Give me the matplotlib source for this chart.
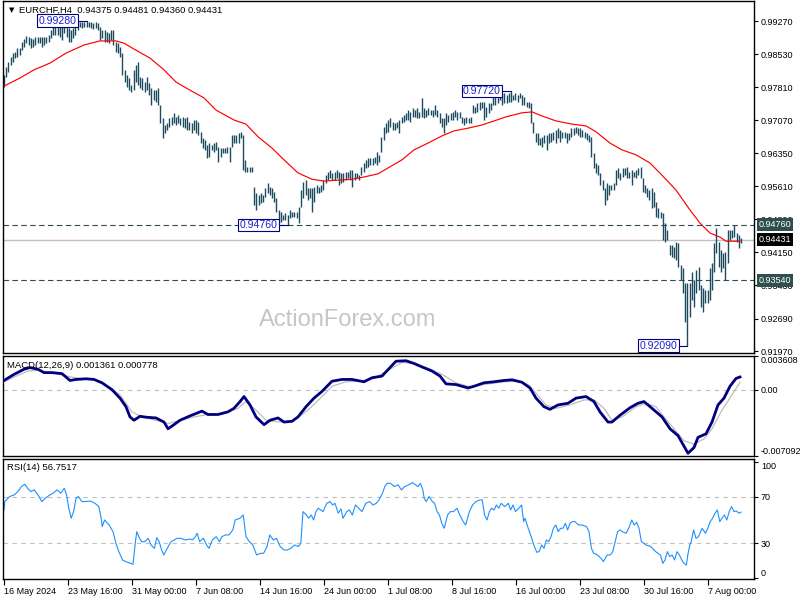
import numpy as np
import matplotlib
matplotlib.use("Agg")
import matplotlib.pyplot as plt
from matplotlib.transforms import blended_transform_factory

plt.rcParams['font.family'] = ['Liberation Sans', 'DejaVu Sans']

# ---------------- data ----------------
bar_high = [
    .9808, .9825, .9836, .9847, .9856, .9858, .9867, .9867, .9881, .9887,
    .9894, .9892, .9889, .9887, .9892, .9892, .9892, .9892, .9892, .9892,
    .9896, .9907, .9923, .9918, .9918, .9914, .9918, .9923, .9923, .9912,
    .9907, .9912, .9918, .9925, .9925, .9925, .9925, .9928, .9925, .9925,
    .9923, .9925, .9923, .9914, .9907, .9907, .9903, .9900, .9907, .9907,
    .9881, .9878, .9870, .9856, .9819, .9808, .9801, .9786, .9819, .9830,
    .9836, .9803, .9801, .9792, .9803, .9790, .9779, .9774, .9774, .9779,
    .9741, .9713, .9697, .9701, .9713, .9715, .9724, .9715, .9719, .9713,
    .9715, .9713, .9715, .9704, .9701, .9708, .9708, .9704, .9682, .9668,
    .9664, .9653, .9657, .9653, .9657, .9659, .9648, .9646, .9646, .9646,
    .9648, .9648, .9675, .9675, .9675, .9679, .9682, .9675, .9620,
    .9604, .9604, .9604, .9560, .9547, .9542, .9547, .9542, .9558, .9569,
    .9560, .9558, .9549, .9536, .9509, .9505, .9498, .9502, .9498, .9509,
    .9505, .9505, .9505, .9516, .9553, .9571, .9575, .9558, .9558, .9558,
    .9560, .9564, .9560, .9564, .9575, .9586, .9593, .9598, .9591, .9593,
    .9598, .9593, .9591, .9591, .9593, .9593, .9598, .9598, .9591, .9591,
    .9586, .9604, .9613, .9620, .9624, .9624, .9624, .9626, .9637, .9631,
    .9671, .9693, .9701, .9708, .9713, .9704, .9701, .9704, .9708, .9715,
    .9719, .9724, .9730, .9726, .9735, .9730, .9735, .9726, .9757, .9735,
    .9730, .9735, .9730, .9730, .9741, .9730, .9724, .9713, .9713, .9724,
    .9719, .9724, .9726, .9730, .9726, .9726, .9715, .9713, .9715, .9713,
    .9715, .9741, .9737, .9746, .9748, .9748, .9748, .9737, .9746, .9746,
    .9763, .9759, .9763, .9768, .9768, .9768, .9763, .9768, .9772, .9763,
    .9768, .9763, .9768, .9763, .9759, .9748, .9748, .9746, .9704, .9679,
    .9679, .9668, .9671, .9675, .9675, .9679, .9679, .9682, .9686, .9690,
    .9686, .9682, .9682, .9679, .9679, .9690, .9690, .9693, .9690, .9690,
    .9686, .9682, .9679, .9675, .9671, .9635, .9613, .9609, .9591, .9575,
    .9558, .9569, .9564, .9564, .9569, .9598, .9602, .9591, .9602, .9602,
    .9604, .9593, .9598, .9593, .9598, .9602, .9604, .9580, .9564, .9558,
    .9553, .9558, .9549, .9527, .9513, .9505, .9502, .9480, .9465, .9432,
    .9432, .9427, .9438, .9436, .9387, .9381, .9348, .9348, .9348, .9372,
    .9354, .9376, .9383, .9343, .9336, .9332, .9332, .9381, .9392, .9436,
    .9469, .9438, .9421, .9414, .9416, .9465, .9465, .9465, .9476, .9458,
    .9454, .9448,
]
bar_low = [
    .9781, .9803, .9814, .9830, .9836, .9845, .9847, .9852, .9863, .9870,
    .9878, .9874, .9867, .9870, .9874, .9878, .9878, .9870, .9874, .9878,
    .9881, .9889, .9896, .9896, .9896, .9892, .9885, .9900, .9892, .9881,
    .9881, .9889, .9896, .9907, .9914, .9912, .9914, .9914, .9914, .9912,
    .9909, .9912, .9907, .9885, .9889, .9881, .9881, .9878, .9885, .9874,
    .9858, .9856, .9847, .9808, .9792, .9781, .9774, .9770, .9774, .9792,
    .9786, .9779, .9774, .9770, .9774, .9763, .9741, .9752, .9748, .9741,
    .9701, .9668, .9679, .9686, .9693, .9697, .9701, .9697, .9701, .9697,
    .9693, .9690, .9686, .9686, .9679, .9686, .9679, .9675, .9657, .9646,
    .9642, .9624, .9626, .9642, .9637, .9642, .9615, .9626, .9635, .9635,
    .9635, .9615, .9648, .9657, .9657, .9657, .9668, .9598, .9593,
    .9593, .9593, .9593, .9520, .9509, .9520, .9525, .9527, .9538, .9547,
    .9542, .9536, .9527, .9505, .9480, .9483, .9487, .9487, .9476, .9491,
    .9494, .9494, .9491, .9480, .9516, .9536, .9542, .9531, .9536, .9505,
    .9527, .9547, .9547, .9549, .9553, .9569, .9575, .9580, .9575, .9575,
    .9580, .9564, .9569, .9571, .9575, .9580, .9575, .9560, .9575, .9580,
    .9575, .9586, .9593, .9602, .9604, .9609, .9609, .9613, .9609, .9615,
    .9637, .9664, .9679, .9682, .9693, .9686, .9686, .9690, .9679, .9701,
    .9704, .9708, .9708, .9704, .9715, .9715, .9713, .9713, .9715, .9713,
    .9715, .9719, .9719, .9715, .9719, .9715, .9701, .9693, .9679, .9697,
    .9704, .9708, .9708, .9715, .9708, .9713, .9701, .9697, .9701, .9701,
    .9701, .9724, .9724, .9726, .9730, .9735, .9708, .9715, .9724, .9730,
    .9741, .9741, .9746, .9752, .9741, .9746, .9746, .9748, .9748, .9752,
    .9752, .9748, .9757, .9741, .9741, .9737, .9735, .9701, .9679, .9659,
    .9653, .9653, .9648, .9657, .9642, .9657, .9659, .9664, .9657, .9668,
    .9659, .9668, .9668, .9657, .9664, .9671, .9675, .9679, .9675, .9671,
    .9671, .9668, .9664, .9659, .9626, .9602, .9591, .9586, .9564, .9553,
    .9520, .9531, .9542, .9553, .9553, .9564, .9580, .9575, .9582, .9586,
    .9580, .9580, .9564, .9582, .9580, .9586, .9580, .9549, .9547, .9538,
    .9531, .9513, .9516, .9494, .9491, .9491, .9443, .9438, .9443, .9409,
    .9405, .9403, .9398, .9383, .9354, .9325, .9261, .9209, .9272, .9310,
    .9294, .9325, .9332, .9294, .9283, .9303, .9303, .9310, .9332, .9372,
    .9414, .9383, .9372, .9381, .9354, .9392, .9443, .9447, .9449, .9438,
    .9425, .9436,
]

# moving average (red)
ma_idx = [0, 8, 15, 23, 31, 40, 48, 56, 60, 65, 73, 80, 86, 93, 100, 106, 115, 121,
          127, 134, 140, 147, 154, 160, 167, 174, 180, 187, 192, 199, 205, 212, 219,
          225, 232, 239, 245, 251, 259, 264, 269, 276, 284, 291, 296, 303, 309, 316,
          323, 329, 336, 343, 348, 353, 358, 361, 368]
ma_val = [.9783, .9801, .9819, .9834, .9856, .9874, .9883, .9883, .9878, .9865, .9845,
          .9819, .9792, .9774, .9757, .9730, .9708, .9699, .9671, .9646, .9620, .9591,
          .9577, .9573, .9575, .9577, .9582, .9589, .9602, .9620, .9642, .9657, .9673,
          .9684, .9690, .9697, .9706, .9715, .9724, .9726, .9717, .9706, .9699, .9695,
          .9682, .9657, .9642, .9631, .9613, .9586, .9553, .9509, .9480, .9458, .9449,
          .9440, .9440]

# MACD (values in units of 0.001)
macd_idx = [0, 5, 10, 13, 17, 20, 24, 29, 33, 36, 41, 45, 49, 54, 58, 61, 63, 65, 68, 71,
            76, 80, 82, 84, 88, 93, 99, 102, 107, 112, 115, 118, 120, 123, 126, 130, 133,
            137, 140, 144, 147, 151, 155, 159, 164, 169, 174, 180, 184, 189, 193, 196,
            201, 205, 209, 214, 218, 221, 226, 232, 235, 240, 245, 250, 254, 259, 263,
            266, 270, 273, 277, 282, 286, 291, 295, 298, 302, 304, 308, 313, 317, 320,
            324, 329, 333, 337, 342, 345, 347, 351, 354, 357, 360, 363, 366, 368]
macd_milli = [0.99, 1.64, 2.19, 2.37, 2.19, 1.83, 1.83, 1.72, 0.99, 1.10,
              1.17, 1.10, 0.74, 0.0, -0.90, -1.82, -2.91, -3.27, -2.84, -2.94,
              -3.02, -3.46, -4.18, -3.89, -3.27, -2.80, -2.29, -2.65, -2.65, -2.37,
              -1.99, -1.27, -0.73, -1.63, -2.91, -3.74, -3.27, -3.02, -3.46, -3.38,
              -2.91, -1.82, -0.90, -0.18, 0.91, 1.10, 1.10, 0.85, 1.28, 1.46,
              2.37, 3.05, 3.10, 2.81, 2.44, 2.00, 1.46, 0.63, 0.55, 0.19,
              0.37, 0.74, 0.85, 0.99, 1.06, 0.80, 0.19, -0.90, -1.82, -2.10,
              -1.63, -1.45, -0.90, -0.73, -1.27, -2.37, -3.46, -3.46, -2.73, -1.93,
              -1.45, -1.27, -1.99, -2.91, -4.18, -4.91, -6.80, -6.19, -5.10, -4.72,
              -3.46, -1.63, -0.90, 0.37, 1.21, 1.361]
sig_idx = [0, 5, 12, 17, 24, 31, 38, 45, 52, 58, 64, 69, 76, 82, 88, 95, 102, 109, 117,
           121, 126, 131, 138, 145, 152, 159, 164, 171, 178, 185, 193, 199, 205, 212,
           219, 226, 233, 240, 250, 257, 262, 266, 271, 276, 283, 290, 295, 300, 304,
           309, 316, 321, 326, 330, 335, 340, 345, 350, 354, 359, 364, 368]
sig_milli = [0.85, 1.35, 2.00, 2.08, 1.83, 1.46, 1.21, 1.10, 0.37, -0.54,
             -2.37, -2.91, -3.27, -3.63, -3.27, -2.91, -2.65, -2.54, -1.99, -1.27,
             -2.18, -3.27, -3.46, -3.27, -2.18, -0.73, 0.37, 0.85, 0.91, 1.21,
             2.19, 2.92, 2.81, 2.30, 1.64, 0.74, 0.30, 0.55, 0.85, 0.91,
             0.55, -0.36, -1.63, -1.99, -1.63, -1.09, -1.09, -1.99, -3.27, -2.91,
             -1.82, -1.45, -1.82, -2.91, -4.18, -5.46, -5.82, -5.27, -4.18, -2.18,
             -0.54, 0.778]

# RSI(14)
rsi_idx = [0.0, 0.4, 2.8, 5.1, 7.0, 8.7, 10.4, 11.8, 13.4, 15.1,
           17.0, 18.9, 20.6, 22.9, 24.6, 26.5, 28.4, 30.1, 31.3, 32.4,
           33.6, 34.8, 36.0, 37.2, 38.9, 40.8, 43.1, 45.5, 47.4, 48.6,
           49.1, 50.3, 52.6, 54.5, 56.2, 57.4, 59.3, 60.9, 63.3, 64.5,
           65.7, 66.4, 67.4, 68.8, 70.4, 72.1, 73.5, 75.2, 76.4, 77.6,
           78.8, 79.9, 81.6, 83.5, 85.2, 86.4, 88.3, 90.6, 93.0, 94.2,
           95.4, 96.6, 97.8, 99.7, 101.3, 102.5, 104.2, 106.1, 107.7, 108.9,
           110.8, 112.5, 114.4, 115.6, 118.0, 119.6, 121.0, 122.7, 124.4, 126.3,
           128.2, 129.8, 131.5, 132.9, 134.6, 136.2, 138.1, 140.0, 141.7, 143.4,
           145.3, 147.2, 148.4, 149.5, 151.2, 152.4, 153.6, 154.8, 156.0, 157.1,
           159.5, 161.4, 163.1, 164.3, 165.5, 167.1, 168.5, 169.5, 171.4, 172.6,
           174.2, 175.7, 177.3, 179.0, 180.9, 182.8, 184.5, 186.1, 187.5, 189.2,
           190.4, 191.6, 193.2, 195.2, 197.0, 198.7, 200.4, 202.3, 204.2, 205.8,
           207.0, 208.2, 209.4, 210.1, 211.1, 212.5, 214.2, 215.3, 216.5, 217.7,
           218.9, 220.1, 221.8, 223.2, 224.8, 226.5, 227.9, 229.6, 230.8, 232.7,
           234.3, 236.0, 237.9, 239.1, 240.3, 241.5, 242.7, 243.8, 245.0, 246.2,
           247.4, 248.6, 250.3, 252.2, 253.3, 254.5, 255.7, 257.4, 258.8, 259.8,
           260.5, 262.1, 263.6, 265.2, 266.4, 267.6, 268.8, 270.0, 271.2, 272.3,
           273.5, 274.7, 275.9, 277.1, 278.3, 279.5, 280.7, 281.8, 283.0, 284.2,
           285.4, 287.3, 289.0, 291.3, 292.5, 293.7, 294.9, 296.8, 298.5, 299.7,
           301.6, 303.2, 304.4, 305.6, 306.8, 308.0, 309.2, 311.1, 312.7, 313.9,
           315.1, 316.3, 317.5, 318.7, 321.0, 323.4, 325.8, 328.2, 329.4, 330.5,
           331.7, 332.9, 334.1, 335.3, 336.5, 337.7, 338.9, 340.0, 341.2, 341.9,
           342.9, 343.6, 344.8, 346.0, 347.2, 349.1, 350.7, 351.9, 353.1, 354.3,
           355.5, 356.7, 357.9, 359.0, 360.2, 361.4, 362.6, 363.8, 365.0, 366.2,
           367.4, 368.5]
rsi_val = [58.6, 65.8, 70.1, 71.5, 74.4, 78.7, 80.7, 77.2, 74.4, 75.8,
           71.5, 65.8, 68.6, 71.5, 72.9, 75.8, 72.9, 77.2, 71.5, 60.1,
           51.5, 57.2, 68.6, 70.1, 65.8, 65.8, 66.3, 64.3, 61.5, 51.5,
           44.3, 50.0, 45.7, 40.0, 28.6, 22.9, 15.7, 14.3, 12.8, 12.0,
           31.4, 40.0, 35.7, 31.4, 31.4, 34.3, 28.6, 25.7, 34.9, 31.4,
           24.3, 20.0, 25.7, 31.4, 32.9, 34.3, 34.3, 32.9, 33.7, 32.9,
           34.9, 38.6, 31.4, 34.3, 28.6, 25.7, 32.9, 35.7, 31.4, 35.7,
           37.2, 37.2, 41.5, 50.0, 51.5, 54.3, 35.7, 31.4, 28.6, 20.0,
           21.4, 21.4, 27.2, 37.2, 32.9, 34.3, 27.2, 24.3, 24.3, 25.7,
           28.6, 27.2, 30.0, 57.2, 54.3, 51.5, 54.3, 50.0, 57.2, 60.1,
           57.2, 64.3, 65.8, 62.9, 64.3, 55.8, 59.5, 51.5, 57.2, 58.6,
           54.3, 62.9, 60.1, 57.2, 64.3, 65.8, 62.9, 64.3, 67.2, 72.9,
           78.7, 81.5, 81.5, 78.7, 80.1, 75.8, 78.7, 80.1, 82.1, 80.1,
           78.7, 81.5, 75.8, 68.6, 65.8, 70.1, 65.8, 64.3, 57.2, 54.3,
           47.2, 42.9, 54.3, 57.2, 57.2, 60.1, 54.3, 48.6, 45.7, 57.2,
           62.9, 65.8, 67.2, 67.2, 54.3, 50.0, 57.2, 60.1, 58.6, 62.9,
           60.1, 64.3, 61.5, 64.3, 58.6, 62.9, 57.2, 60.1, 62.9, 48.6,
           51.5, 42.9, 35.7, 27.2, 22.3, 22.9, 28.6, 25.7, 32.9, 31.4,
           35.7, 42.9, 45.7, 40.0, 42.9, 42.9, 47.2, 41.5, 47.2, 48.6,
           48.6, 45.7, 45.7, 44.3, 40.0, 25.7, 21.4, 20.0, 17.1, 14.3,
           20.0, 20.0, 22.9, 31.4, 40.0, 41.5, 40.0, 38.6, 44.3, 50.0,
           45.7, 47.9, 42.9, 31.4, 28.6, 27.2, 22.9, 20.0, 12.8, 15.7,
           22.9, 18.6, 20.0, 15.7, 22.9, 20.0, 15.7, 12.8, 11.4, 20.0,
           28.6, 31.4, 41.5, 34.3, 35.7, 42.9, 38.6, 42.9, 48.6, 51.5,
           55.8, 58.6, 48.6, 51.5, 54.3, 50.0, 57.2, 61.5, 57.2, 57.8,
           55.8, 56.75]

price_ticks = [0.99270, 0.98530, 0.97810, 0.97070, 0.96350, 0.95610, 0.94890,
               0.94150, 0.93430, 0.92690, 0.91970]
level_hi, level_lo, last_price = 0.94760, 0.93540, 0.94431
x_tick_idx = [0, 32, 64, 96, 128, 160, 192, 224, 256, 288, 320, 352]
x_tick_lab = ["16 May 2024", "23 May 16:00", "31 May 00:00", "7 Jun 08:00",
              "14 Jun 16:00", "24 Jun 00:00", "1 Jul 08:00", "8 Jul 16:00",
              "16 Jul 00:00", "23 Jul 08:00", "30 Jul 16:00", "7 Aug 00:00"]

# ---------------- figure ----------------
W, H = 800, 600
fig = plt.figure(figsize=(8, 6), dpi=100)
fig.patch.set_facecolor('white')


def rect(x0, y0, x1, y1):
    return [x0 / W, 1 - y1 / H, (x1 - x0) / W, (y1 - y0) / H]


XL, XR = 2.5, 754
ax_p = fig.add_axes(rect(XL, 1, XR, 353))
ax_m = fig.add_axes(rect(XL, 356, XR, 456))
ax_r = fig.add_axes(rect(XL, 459, XR, 579))

BAR = '#1C4A5E'
FS = 6.5
xlim = (-0.75, 375)

for ax in (ax_p, ax_m, ax_r):
    ax.set_xlim(*xlim)
    ax.yaxis.tick_right()
    ax.tick_params(axis='y', direction='out', length=3, width=0.8, pad=2,
                   labelsize=FS, colors='black')
    for s in ax.spines.values():
        s.set_linewidth(1.0)
        s.set_color('black')
    ax.set_facecolor('white')

# ---- price panel ----
pos = np.linspace(0, 368.5, len(bar_high))
hi = np.array(bar_high)
lo = np.array(bar_low)
ax_p.set_ylim(0.91927, 0.99713)
ax_p.axhline(last_price, color='#C0C0C0', lw=1.0, zorder=1)
ax_p.axhline(level_hi, color='#2F4F4F', lw=0.8, ls=(0, (5, 3)), zorder=1)
ax_p.axhline(level_lo, color='#2F4F4F', lw=0.8, ls=(0, (5, 3)), zorder=1)
ax_p.vlines(pos, lo, hi, color=BAR, lw=1.0, zorder=2)
ax_p.plot(ma_idx, ma_val, color='#FF0000', lw=0.85, zorder=3)
ax_p.set_xticks([])
ax_p.set_yticks(price_ticks)
ax_p.set_yticklabels([f"{v:.5f}" for v in price_ticks])

trans = blended_transform_factory(ax_p.transAxes, ax_p.transData)
for val, fc in [(level_hi, '#2F4F4F'), (last_price, 'black'), (level_lo, '#2F4F4F')]:
    ax_p.text(1.0065, val, f"{val:.5f}", transform=trans, ha='left', va='center',
              color='white', fontsize=FS, clip_on=False, zorder=6,
              bbox=dict(boxstyle='square,pad=0.22', fc=fc, ec='none'))


def mark(i, price):
    x = pos[i]
    ax_p.plot([x - 5, x], [price, price], color='#000080', lw=0.8, zorder=4)
    ax_p.text(x - 5, price, f"{price:.5f}", ha='right', va='center', color='#1E1ED2',
              fontsize=7.6, zorder=5,
              bbox=dict(boxstyle='square,pad=0.12', fc='white', ec='#000080', lw=0.8))


i_top = int(np.argmax(hi[:120]))
mark(i_top, hi[i_top])
i_top2 = 200 + int(np.argmax(hi[200:260]))
mark(i_top2, hi[i_top2])
i_low1 = 100 + int(np.argmin(lo[100:160]))
mark(i_low1, lo[i_low1])
i_low2 = int(np.argmin(lo))
mark(i_low2, lo[i_low2])

# ---- MACD panel ----
ax_m.set_ylim(-0.007092, 0.003608)
ax_m.axhline(0, color='#C0C0C0', lw=0.8, ls=(0, (4, 4)), zorder=1)
ax_m.plot(sig_idx, np.array(sig_milli) * 1e-3, color='#BDBDBD', lw=0.9, zorder=2)
ax_m.plot(macd_idx, np.array(macd_milli) * 1e-3, color='#000080', lw=2.0, zorder=3)
ax_m.set_xticks([])
ax_m.set_yticks([0.003608, 0.0, -0.007092])
ax_m.set_yticklabels(['0.003608', '0.00', '-0.007092'])
labs = ax_m.get_yticklabels()
labs[0].set_va('top')
labs[2].set_va('bottom')

# ---- RSI panel ----
ax_r.set_ylim(-0.6, 102.3)
for lvl in (70, 30):
    ax_r.axhline(lvl, color='#C0C0C0', lw=0.8, ls=(0, (4, 4)), zorder=1)
ax_r.plot(rsi_idx, rsi_val, color='#1E90FF', lw=0.8, zorder=2)
ax_r.set_yticks([100, 70, 30, 0])
ax_r.set_yticklabels(['100', '70', '30', '0'])
labs = ax_r.get_yticklabels()
labs[0].set_va('top')
labs[3].set_va('bottom')
ax_r.set_xticks(x_tick_idx)
ax_r.set_xticklabels(x_tick_lab)
ax_r.tick_params(axis='x', direction='out', length=4, width=0.8, pad=1.5,
                 labelsize=FS, colors='black')
for lab in ax_r.get_xticklabels():
    lab.set_ha('left')

# ---- texts ----
fig.text(8.5 / W, 1 - 10 / H, '\u25BC', fontsize=5, ha='left', va='center',
         family=['DejaVu Sans'])
fig.text(19 / W, 1 - 10 / H, "EURCHF,H4  0.94375 0.94481 0.94360 0.94431",
         fontsize=6.8, ha='left', va='center', color='black')
fig.text(7 / W, 1 - 365 / H, "MACD(12,26,9) 0.001361 0.000778",
         fontsize=6.8, ha='left', va='center', color='black')
fig.text(7 / W, 1 - 468 / H, "RSI(14) 56.7517",
         fontsize=6.8, ha='left', va='center', color='black')
fig.text(348 / W, 1 - 320 / H, "ActionForex.com", fontsize=17, ha='center',
         va='center', color='#C6C6C6')

fig.savefig('out.png', dpi=100)
